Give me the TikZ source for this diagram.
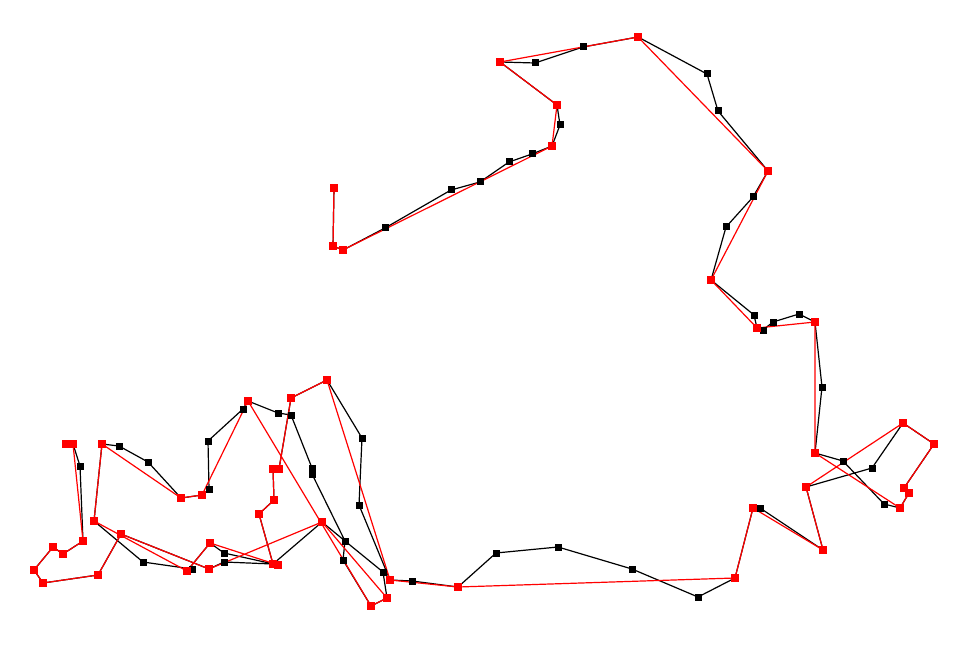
\documentclass[tikz,border=0pt]{standalone}
\begin{document}
\begin{tikzpicture}[x=1pt,y=-1pt,
  bline/.style={black, line width=1.2pt, line join=round},
  rline/.style={red, line width=1.2pt, line join=round},
  bm/.style={rectangle, fill=black, draw=none, inner sep=0pt, minimum size=7pt},
  rm/.style={rectangle, fill=red, draw=none, inner sep=0pt, minimum size=8.5pt}]
\fill[white] (0,0) rectangle (976,668);
\useasboundingbox (0,0) rectangle (976,668);
\foreach \n/\x/\y in {a1/334/188,a2/333/246,a3/343/250,a4/385/228,a5/451/190,a6/480/182,a7/509/162,a8/532/154,a9/552/146,a10/560/125,
 a11/557/105,a12/500/62,a13/535/63,a14/583/47,a15/638/37,a16/707/74,a17/718/111,a18/768/171,a19/753/197,a20/726/227,
 a21/711/280,a22/754/315,a23/757/328,a24/763/330,a25/773/322,a26/799/314,a27/815/322,a28/822/387,a29/815/453,a30/843/461,
 a31/884/504,a32/900/508,a33/909/493,a34/904/488,a35/934/444,a36/903/423,a37/872/468,a38/806/487,a39/823/550,a40/760/508,
 a41/753/508,a42/735/578,a43/698/597,a44/632/569,a45/558/547,a46/496/553,a47/458/587,a48/412/581,a49/390/580,a50/359/505,
 a51/362/438,a52/327/380,a53/291/398,a54/279/469,a55/273/469,a56/274/500,a57/259/514,a58/273/564,a59/278/565,a60/224/553,
 a61/210/543,a62/187/571,a63/192/569,a64/143/562,a65/94/521,a66/102/444,a67/119/446,a68/148/462,a69/181/498,a70/202/495,
 a71/209/489,a72/208/441,a73/243/409,a74/248/401,a75/278/413,a76/291/415,a77/312/468,a78/312/474,a79/345/541,a80/343/560,
 a81/371/606,a82/387/598,a83/383/572,a84/322/522,a86/224/562,a87/209/569,a88/121/534,a89/98/575,a90/43/583,
 a91/34/570,a92/53/547,a93/63/554,a94/83/541,a95/80/466,a96/73/444,a97/66/444}
  \coordinate (\n) at (\x,\y);
% black polyline
\draw[bline] (a1)--(a2)--(a3)--(a4)--(a5)--(a6)--(a7)--(a8)--(a9)--(a10)--(a11)--(a12)--(a13)--(a14)--(a15)
 --(a16)--(a17)--(a18)--(a19)--(a20)--(a21)--(a22)--(a23)--(a24)--(a25)--(a26)--(a27)--(a28)--(a29)--(a30)
 --(a31)--(a32)--(a33)--(a34)--(a35)--(a36)--(a37)--(a38)--(a39)--(a40)--(a41)--(a42)--(a43)--(a44)--(a45)
 --(a46)--(a47)--(a48)--(a49)--(a50)--(a51)--(a52)--(a53)--(a54)--(a55)--(a56)--(a57)--(a58)--(a59)--(a60)
 --(a61)--(a62)--(a63)--(a64)--(a65)--(a66)--(a67)--(a68)--(a69)--(a70)--(a71)--(a72)--(a73)--(a74)--(a75)
 --(a76)--(a77)--(a78)--(a79)--(a80)--(a81)--(a82)--(a83)--(a79)--(a84)--(a58)--(a86)--(a87)--(a88)--(a89)
 --(a90)--(a91)--(a92)--(a93)--(a94)--(a95)--(a96)--(a97);
% red simplified polyline
\draw[rline] (a1)--(a2)--(a3)--(a9)--(a11)--(a12)--(a15)--(a18)--(a21)--(a23)--(a27)--(a29)--(a32)--(a33)--(a34)
 --(a35)--(a36)--(a38)--(a39)--(a41)--(a42)--(a47)--(a49)--(a52)--(a53)--(a54)--(a55)--(a56)--(a57)--(a58)
 --(a59)--(a61)--(a62)--(a65)--(a66)--(a69)--(a70)--(a74)--(a81)--(a82)--(a84)--(a87)--(a88)--(a89)--(a90)
 --(a91)--(a92)--(a93)--(a94)--(a96)--(a97);
% markers
\foreach \n in {a4,a5,a6,a7,a8,a10,a13,a14,a16,a17,a19,a20,a22,a24,a25,a26,a28,a30,a31,a37,a40,a43,a44,a45,a46,
 a48,a50,a51,a60,a63,a64,a67,a68,a71,a72,a73,a75,a76,a77,a78,a79,a80,a83,a86,a95}
  \node[bm] (m\n) at (\n) {};
\foreach \n in {a1,a2,a3,a9,a11,a12,a15,a18,a21,a23,a27,a29,a32,a33,a34,a35,a36,a38,a39,a41,a42,a47,a49,a52,a53,
 a54,a55,a56,a57,a58,a59,a61,a62,a65,a66,a69,a70,a74,a81,a82,a84,a87,a88,a89,a90,a91,a92,a93,a94,a96,a97}
  \node[rm] (m\n) at (\n) {};
\end{tikzpicture}
\end{document}
